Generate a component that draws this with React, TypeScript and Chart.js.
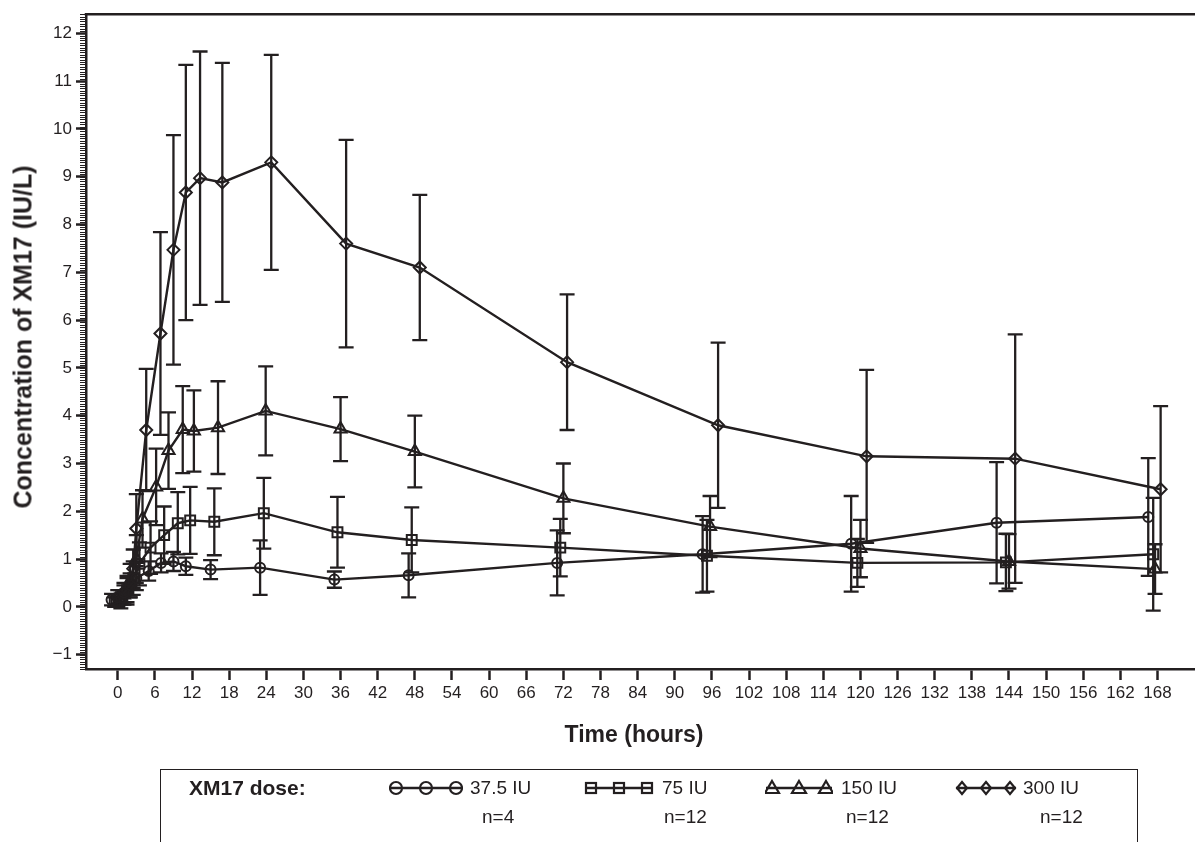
import React, { useEffect, useRef } from 'react';
import { Chart, registerables } from 'chart.js';

Chart.register(...registerables);

const INK = '#231f20';
const FONT = '"Liberation Sans", Arial, Helvetica, sans-serif';

// ---- data (hours, IU/L) ----
const times375 = [-1, 0, 1, 2, 3, 5, 7, 9, 11, 15, 23, 35, 47, 71, 94.5, 118.5, 142, 166.5];
const mean375 = [0.15, 0.2, 0.3, 0.45, 0.6, 0.75, 0.92, 0.95, 0.85, 0.78, 0.82, 0.57, 0.66, 0.92, 1.1, 1.32, 1.76, 1.88];
const sd375 = [0.12, 0.15, 0.2, 0.25, 0.25, 0.2, 0.2, 0.2, 0.18, 0.2, 0.57, 0.17, 0.46, 0.68, 0.8, 1.0, 1.27, 1.23];

const times75 = [-0.5, 0.5, 1.5, 2.5, 3.5, 5.3, 7.5, 9.7, 11.7, 15.6, 23.6, 35.5, 47.5, 71.5, 95.2, 119.5, 143.5, 167.3];
const mean75 = [0.1, 0.2, 0.35, 0.6, 0.9, 1.24, 1.5, 1.75, 1.81, 1.78, 1.96, 1.56, 1.4, 1.24, 1.07, 0.92, 0.93, 1.1];
const sd75 = [0.1, 0.15, 0.25, 0.35, 0.45, 0.55, 0.6, 0.65, 0.7, 0.7, 0.74, 0.74, 0.68, 0.6, 0.75, 0.5, 0.6, 1.18];

const times150 = [0, 1, 2, 3, 4, 6.2, 8.2, 10.5, 12.3, 16.2, 23.9, 36, 48, 72, 95.7, 120, 144, 167.6];
const mean150 = [0.1, 0.25, 0.55, 1.0, 1.84, 2.51, 3.27, 3.71, 3.68, 3.75, 4.1, 3.72, 3.25, 2.27, 1.68, 1.22, 0.95, 0.79];
const sd150 = [0.1, 0.2, 0.35, 0.5, 0.6, 0.8, 0.8, 0.91, 0.85, 0.97, 0.93, 0.67, 0.75, 0.73, 0.64, 0.6, 0.57, 0.52];

const times300 = [0.5, 1.5, 2.5, 3, 4.6, 6.9, 9, 11, 13.3, 16.9, 24.8, 36.9, 48.8, 72.6, 97, 121, 145, 168.5];
const mean300 = [0.12, 0.35, 0.8, 1.64, 3.7, 5.72, 7.47, 8.67, 8.97, 8.88, 9.3, 7.6, 7.1, 5.12, 3.8, 3.15, 3.1, 2.46];
const sd300 = [0.15, 0.3, 0.4, 0.72, 1.28, 2.12, 2.4, 2.67, 2.65, 2.5, 2.25, 2.17, 1.52, 1.42, 1.73, 1.81, 2.6, 1.74];

const xTickValues = [0, 6, 12, 18, 24, 30, 36, 42, 48, 54, 60, 66, 72, 78, 84, 90, 96, 102, 108, 114, 120, 126, 132, 138, 144, 150, 156, 162, 168];
const yTickValues = [-1, 0, 1, 2, 3, 4, 5, 6, 7, 8, 9, 10, 11, 12];
const yMinorStep = 0.05;

const seriesNames = ['37.5 IU', '75 IU', '150 IU', '300 IU'];
const seriesN = ['n=4', 'n=12', 'n=12', 'n=12'];

const SERIES = [
  { name: seriesNames[0], t: times375, v: mean375, sd: sd375, style: 'circle', r: 5 },
  { name: seriesNames[1], t: times75, v: mean75, sd: sd75, style: 'rect', r: 7 },
  { name: seriesNames[2], t: times150, v: mean150, sd: sd150, style: 'triangle', r: 7 },
  { name: seriesNames[3], t: times300, v: mean300, sd: sd300, style: 'rectRot', r: 6 },
];

const X_MIN = -5.13;
const X_MAX = 179.87;
const Y_MIN = -1.3;
const Y_MAX = 12.4;

const errorBarPlugin = {
  id: 'errorBars',
  beforeDatasetsDraw(chart: any) {
    const { ctx } = chart;
    const x = chart.scales.x;
    const y = chart.scales.y;
    ctx.save();
    ctx.strokeStyle = INK;
    ctx.lineWidth = 2.3;
    ctx.lineCap = 'butt';
    SERIES.forEach((s) => {
      s.t.forEach((t, i) => {
        const px = x.getPixelForValue(t);
        const top = y.getPixelForValue(s.v[i] + s.sd[i]);
        const bot = y.getPixelForValue(s.v[i] - s.sd[i]);
        ctx.beginPath();
        ctx.moveTo(px, top);
        ctx.lineTo(px, bot);
        ctx.moveTo(px - 7.5, top);
        ctx.lineTo(px + 7.5, top);
        ctx.moveTo(px - 7.5, bot);
        ctx.lineTo(px + 7.5, bot);
        ctx.stroke();
      });
    });
    ctx.restore();
  },
};

const framePlugin = {
  id: 'frame',
  afterDraw(chart: any) {
    const { ctx, chartArea } = chart;
    const y = chart.scales.y;
    ctx.save();
    ctx.strokeStyle = INK;
    ctx.lineWidth = 2.5;
    ctx.beginPath();
    ctx.moveTo(chartArea.left - 1.25, chartArea.top);
    ctx.lineTo(chart.width, chartArea.top);
    ctx.stroke();
    ctx.lineWidth = 1.1;
    ctx.beginPath();
    const start = Math.ceil(Y_MIN / yMinorStep);
    const end = Math.floor(Y_MAX / yMinorStep);
    for (let k = start; k <= end; k++) {
      const py = Math.round(y.getPixelForValue(k * yMinorStep)) + 0.5;
      ctx.moveTo(chartArea.left - 6, py);
      ctx.lineTo(chartArea.left, py);
    }
    ctx.stroke();
    ctx.restore();
  },
};

function LegendMarker({ style, width }: { style: string; width: number }) {
  const xs = [7, width / 2, width - 7];
  const cy = 10;
  const sw = 2.2;
  const marks = xs.map((cx, i) => {
    if (style === 'circle') return <circle key={i} cx={cx} cy={cy} r={6} fill="none" stroke={INK} strokeWidth={sw} />;
    if (style === 'rect') return <rect key={i} x={cx - 5} y={cy - 5} width={10} height={10} fill="none" stroke={INK} strokeWidth={sw} />;
    if (style === 'triangle')
      return <polygon key={i} points={`${cx},${cy - 7} ${cx + 7},${cy + 5} ${cx - 7},${cy + 5}`} fill="none" stroke={INK} strokeWidth={sw} />;
    return <polygon key={i} points={`${cx},${cy - 6} ${cx + 5},${cy} ${cx},${cy + 6} ${cx - 5},${cy}`} fill="none" stroke={INK} strokeWidth={sw} />;
  });
  return (
    <svg width={width} height={20} style={{ display: 'block' }}>
      <line x1={1} y1={cy} x2={width - 1} y2={cy} stroke={INK} strokeWidth={2.4} />
      {marks}
    </svg>
  );
}

export default function App() {
  const canvasRef = useRef<HTMLCanvasElement | null>(null);

  useEffect(() => {
    document.body.style.margin = '0';
    const canvas = canvasRef.current;
    if (!canvas) return;
    const datasets = SERIES.map((s) => ({
      label: s.name,
      data: s.t.map((t, i) => ({ x: t, y: s.v[i] })),
      borderColor: INK,
      borderWidth: 2.4,
      backgroundColor: 'transparent',
      pointStyle: s.style,
      pointRadius: s.r,
      pointBorderWidth: 2,
      pointBorderColor: INK,
      pointBackgroundColor: 'rgba(255,255,255,0)',
      tension: 0,
      fill: false,
    }));
    const chart = new Chart(canvas, {
      type: 'line',
      data: { datasets },
      options: {
        animation: false,
        responsive: false,
        maintainAspectRatio: false,
        devicePixelRatio: 1,
        layout: { padding: { left: 0, top: 12, right: 0, bottom: 133 } },
        plugins: { legend: { display: false }, tooltip: { enabled: false } },
        scales: {
          x: {
            type: 'linear',
            min: X_MIN,
            max: X_MAX,
            afterBuildTicks: (scale: any) => {
              scale.ticks = xTickValues.map((v) => ({ value: v }));
            },
            afterFit: (scale: any) => {
              scale.height = 40;
            },
            ticks: {
              autoSkip: false,
              maxRotation: 0,
              padding: 3,
              color: INK,
              font: { family: FONT, size: 17 },
              callback: (v: any) => String(v),
            },
            grid: { drawOnChartArea: false, drawTicks: true, tickLength: 11, tickWidth: 2.5, tickColor: INK },
            border: { display: true, color: INK, width: 2.5 },
          },
          y: {
            type: 'linear',
            min: Y_MIN,
            max: Y_MAX,
            afterBuildTicks: (scale: any) => {
              scale.ticks = yTickValues.map((v) => ({ value: v }));
            },
            afterFit: (scale: any) => {
              scale.width = 86;
            },
            ticks: {
              autoSkip: false,
              padding: 4,
              color: INK,
              font: { family: FONT, size: 17 },
              callback: (v: any) => (v < 0 ? '\u2212' + String(Math.abs(v)) : String(v)),
            },
            grid: { drawOnChartArea: false, drawTicks: true, tickLength: 10, tickWidth: 2.5, tickColor: INK },
            border: { display: true, color: INK, width: 2.5 },
          },
        },
      },
      plugins: [errorBarPlugin, framePlugin],
    });
    return () => chart.destroy();
  }, []);

  const legendItems = [
    { style: 'circle', markerLeft: 389, markerWidth: 74, textLeft: 470, nLeft: 482 },
    { style: 'rect', markerLeft: 584, markerWidth: 70, textLeft: 662, nLeft: 664 },
    { style: 'triangle', markerLeft: 765, markerWidth: 68, textLeft: 841, nLeft: 846 },
    { style: 'rectRot', markerLeft: 955, markerWidth: 62, textLeft: 1023, nLeft: 1040 },
  ];

  return (
    <div style={{ position: 'absolute', left: 0, top: 0, width: 1195, height: 842, overflow: 'hidden', background: '#fff', fontFamily: FONT, color: INK }}>
      <canvas ref={canvasRef} width={1240} height={842} style={{ position: 'absolute', left: 0, top: 0, width: 1240, height: 842 }} />
      <div style={{ position: 'absolute', left: 23, top: 337, transform: 'translate(-50%, -50%) rotate(-90deg)', whiteSpace: 'nowrap', fontWeight: 'bold', fontSize: 25 }}>
        Concentration of XM17 (IU/L)
      </div>
      <div style={{ position: 'absolute', left: 634, top: 734, transform: 'translate(-50%, -50%)', whiteSpace: 'nowrap', fontWeight: 'bold', fontSize: 23 }}>
        Time (hours)
      </div>
      <div style={{ position: 'absolute', left: 160, top: 769, width: 978, height: 120, border: `1.5px solid ${INK}`, boxSizing: 'border-box' }} />
      <div style={{ position: 'absolute', left: 189, top: 788, transform: 'translateY(-50%)', fontWeight: 'bold', fontSize: 21, whiteSpace: 'nowrap' }}>XM17 dose:</div>
      {legendItems.map((it, i) => (
        <React.Fragment key={i}>
          <div style={{ position: 'absolute', left: it.markerLeft, top: 778 }}>
            <LegendMarker style={it.style} width={it.markerWidth} />
          </div>
          <div style={{ position: 'absolute', left: it.textLeft, top: 788, transform: 'translateY(-50%)', fontSize: 19, whiteSpace: 'nowrap' }}>{seriesNames[i]}</div>
          <div style={{ position: 'absolute', left: it.nLeft, top: 817, transform: 'translateY(-50%)', fontSize: 19, whiteSpace: 'nowrap' }}>{seriesN[i]}</div>
        </React.Fragment>
      ))}
    </div>
  );
}
